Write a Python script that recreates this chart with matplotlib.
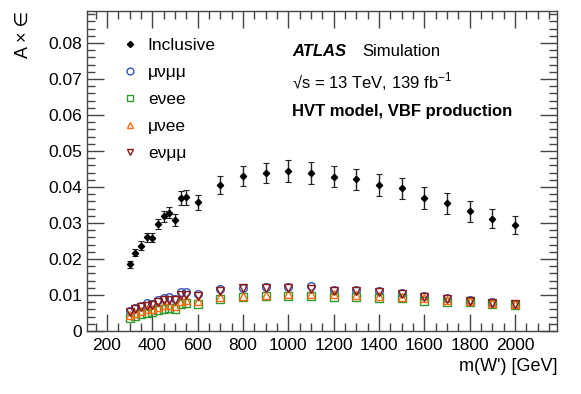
import matplotlib
matplotlib.use("Agg")
import matplotlib.pyplot as plt
import matplotlib.ticker as ticker
from matplotlib.lines import Line2D

plt.rcParams['font.family'] = ['Liberation Sans', 'DejaVu Sans']
plt.rcParams['mathtext.fontset'] = 'custom'
plt.rcParams['mathtext.rm'] = 'Liberation Sans'

# W' mass points [GeV]
mass = [300, 325, 350, 375, 400, 425, 450, 475, 500, 525, 550, 600, 700, 800,
        900, 1000, 1100, 1200, 1300, 1400, 1500, 1600, 1700, 1800, 1900, 2000]

inclusive = [0.0185, 0.0218, 0.0237, 0.0260, 0.0259, 0.0297, 0.0319, 0.0329, 0.0308,
             0.0370, 0.0371, 0.0357, 0.0406, 0.0431, 0.0440, 0.0445, 0.0439, 0.0429,
             0.0421, 0.0406, 0.0396, 0.0370, 0.0355, 0.0332, 0.0312, 0.0294]
inclusive_err = [0.0009, 0.0010, 0.0012, 0.0012, 0.0012, 0.0015, 0.0015, 0.0016, 0.0017,
                 0.0020, 0.0021, 0.0020, 0.0025, 0.0027, 0.0028, 0.0031, 0.0030, 0.0030,
                 0.0030, 0.0030, 0.0030, 0.0030, 0.0029, 0.0029, 0.0026, 0.0025]

munumumu = [0.0056, 0.0065, 0.0070, 0.0078, 0.0076, 0.0087, 0.0091, 0.0094, 0.0090,
            0.0107, 0.0108, 0.0104, 0.0117, 0.0120, 0.0122, 0.0123, 0.0125, 0.0113,
            0.0113, 0.0110, 0.0105, 0.0098, 0.0092, 0.0085, 0.0081, 0.0076]
evee = [0.0035, 0.0042, 0.0047, 0.0051, 0.0052, 0.0058, 0.0062, 0.0065, 0.0062,
        0.0074, 0.0077, 0.0074, 0.0088, 0.0093, 0.0096, 0.0097, 0.0097, 0.0095,
        0.0094, 0.0091, 0.0091, 0.0083, 0.0081, 0.0080, 0.0076, 0.0071]
munuee = [0.0044, 0.0050, 0.0055, 0.0060, 0.0060, 0.0067, 0.0071, 0.0073, 0.0070,
          0.0084, 0.0086, 0.0084, 0.0093, 0.0098, 0.0100, 0.0103, 0.0102, 0.0102,
          0.0101, 0.0098, 0.0095, 0.0092, 0.0087, 0.0084, 0.0078, 0.0074]
enumumu = [0.0052, 0.0060, 0.0066, 0.0070, 0.0072, 0.0080, 0.0085, 0.0087, 0.0085,
           0.0100, 0.0101, 0.0097, 0.0112, 0.0118, 0.0118, 0.0120, 0.0117, 0.0111,
           0.0110, 0.0107, 0.0102, 0.0095, 0.0089, 0.0083, 0.0079, 0.0075]

fig = plt.figure(figsize=(5.81, 3.94), dpi=100)
ax = fig.add_axes([0.1497, 0.16, 0.809, 0.812])

ax.errorbar(mass, inclusive, yerr=inclusive_err, fmt='D', color='black', ms=3.2,
            ecolor='#222222', elinewidth=1.0, capsize=2, capthick=0.8, zorder=5)
h1, = ax.plot(mass, munumumu, 'o', ms=5.5, mfc='none', mec='#3355bb', mew=1.0)
h2, = ax.plot(mass, evee, 's', ms=5.5, mfc='none', mec='#2e9a2e', mew=1.0)
h3, = ax.plot(mass, munuee, '^', ms=5.5, mfc='none', mec='#ff6a10', mew=1.0)
h4, = ax.plot(mass, enumumu, 'v', ms=5.5, mfc='none', mec='#8b1a1a', mew=1.0)
h0 = Line2D([], [], ls='none', marker='D', color='black', ms=3.5)

ax.set_xlim(112, 2185)
ax.set_ylim(0, 0.0889)
ax.xaxis.set_major_locator(ticker.MultipleLocator(200))
ax.xaxis.set_minor_locator(ticker.MultipleLocator(50))
ax.yaxis.set_major_locator(ticker.MultipleLocator(0.01))
ax.yaxis.set_minor_locator(ticker.MultipleLocator(0.002))
ax.yaxis.set_major_formatter(ticker.FuncFormatter(lambda v, p: '0' if abs(v) < 1e-9 else f'{v:g}'))

ax.tick_params(which='both', direction='in', top=True, right=True, labelsize=12.5, color='#444444')
ax.tick_params(which='major', length=12, width=1.0)
ax.tick_params(which='minor', length=6, width=1.0)
ax.tick_params(axis='x', which='major', pad=5)
for s in ax.spines.values():
    s.set_color('#444444')
    s.set_linewidth(1.0)

ax.set_xlabel("m(W') [GeV]", fontsize=13, loc='right')
ax.set_ylabel("A × ∈", fontsize=13, loc='top', labelpad=12)

ax.legend([h0, h1, h2, h3, h4], ['Inclusive', 'μνμμ', 'eνee', 'μνee', 'eνμμ'],
          loc='upper left', bbox_to_anchor=(0.074, 0.915), frameon=False, fontsize=12.5,
          handlelength=1.0, handletextpad=0.5, labelspacing=0.68, borderaxespad=0,
          borderpad=0, markerscale=0.9)

ax.text(0.436, 0.875, 'ATLAS', transform=ax.transAxes, fontsize=12, fontweight='bold',
        style='italic', va='center')
ax.text(0.585, 0.875, 'Simulation', transform=ax.transAxes, fontsize=12, va='center')
ax.text(0.436, 0.78, '√s = 13 TeV, 139 fb$^{\\mathregular{-1}}$', transform=ax.transAxes,
        fontsize=12, va='center')
ax.text(0.436, 0.685, 'HVT model, VBF production', transform=ax.transAxes, fontsize=12,
        fontweight='bold', va='center')

fig.savefig('out.png', dpi=100)
